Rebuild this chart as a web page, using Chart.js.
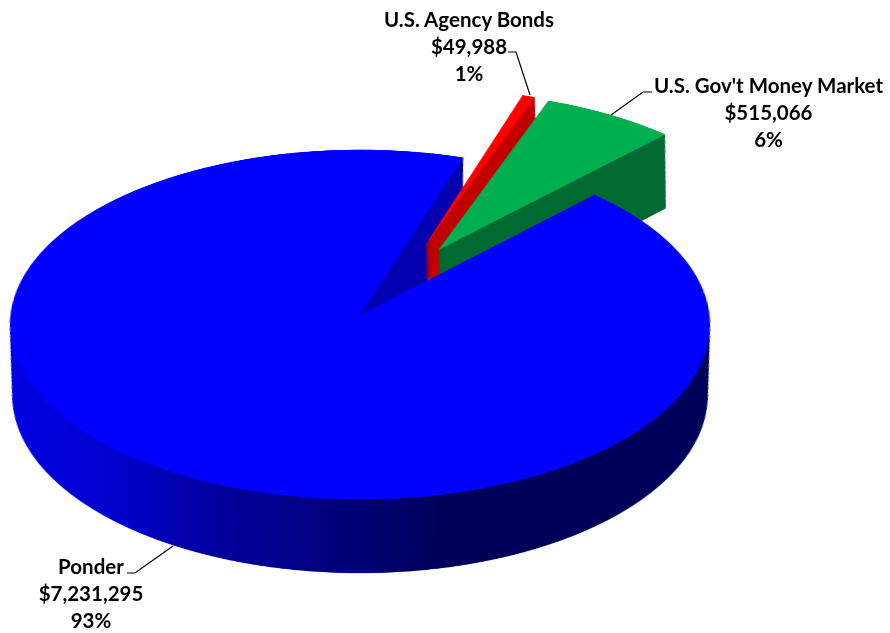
<!DOCTYPE html>
<html>
<head>
<title>Portfolio pie</title>
<script src="https://cdn.jsdelivr.net/npm/chart.js@4/dist/chart.umd.min.js"></script>
<style>
html, body { margin: 0; padding: 0; background: #fff; width: 890px; height: 633px; overflow: hidden; }
/* tilts the flat pie back so that it looks like the 3D one, apex at 359,315 */
#tilt { position: absolute; left: 359.5px; top: 315px; width: 0; height: 0; transform-origin: 0 0;
  transform: matrix3d(1,0,0,0, 0,0.499,0,-0.000156, 0,0,1,0, 0,0,0,1); }
#pie { position: absolute; left: -380px; top: -500px; }
#leaders { position: absolute; left: 0; top: 0; }
.lbl { position: absolute; transform: translateX(-50%); text-align: center; white-space: nowrap;
  font: bold 20.5px/27px Lato, sans-serif; color: #000; }
</style>
</head>
<body>
<div id="tilt"><canvas id="pie" width="760" height="1000"></canvas></div>
<svg id="leaders" width="890" height="633" fill="none" stroke="#000" stroke-width="1.2">
  <polyline points="508,52 516,52 530,95"/>
  <polyline points="652,92 643,92 611,115"/>
  <polyline points="127,573 135,573 173,546"/>
</svg>
<div id="labels"></div>
<script>
const categories = ['Ponder', 'U.S. Agency Bonds', "U.S. Gov't Money Market"];
const amounts = [7231295, 49988, 515066];
const percents = ['93%', '1%', '6%'];

const topColors = ['#0000ff', '#ff0000', '#00b050'];
const wallColors = [null, '#c00000', '#006a31'];
const innerWall = '#0000b0';
const explode = [[0, 0], [66, -141], [80, -133]];   // flat offset of each slice
const depths = [139, 150, 155];                     // flat wall height
const labelPos = [[91, 553], [469, 6], [768.5, 72]];

const R = 349.5;

function drawArc(ctx, arc, dx, dy, k, fill) {
  const a = Object.create(arc);
  a.options = Object.assign({}, arc.options, { backgroundColor: fill });
  ctx.save();
  ctx.translate(arc.x + dx, arc.y + dy);
  ctx.scale(k, k);
  ctx.translate(-arc.x, -arc.y);
  a.draw(ctx);
  ctx.restore();
}

function stack(ctx, arc, i, fill) {
  const [ox, oy] = explode[i];
  for (let d = depths[i]; d > 0; d -= 1.5) {
    drawArc(ctx, arc, ox, oy + d, 1 - 0.028 * d / depths[i], fill);
  }
}

const pie3d = {
  id: 'pie3d',
  beforeDatasetsDraw(chart) {
    const ctx = chart.ctx;
    const arcs = chart.getDatasetMeta(0).data;
    const main = arcs[0];

    const grad = ctx.createLinearGradient(main.x - R, 0, main.x + R, 0);
    grad.addColorStop(0, '#0000e4');
    grad.addColorStop(0.17, '#0000cc');
    grad.addColorStop(0.27, '#0000a8');
    grad.addColorStop(0.41, '#000088');
    grad.addColorStop(0.615, '#00005a');
    grad.addColorStop(1, '#00005a');
    stack(ctx, main, 0, grad);

    // cut face of the big slice, only shows inside the top circle
    ctx.save();
    ctx.beginPath();
    ctx.arc(main.x, main.y, R, 0, Math.PI * 2);
    ctx.clip();
    stack(ctx, main, 0, innerWall);
    ctx.restore();

    [1, 2].forEach(i => {
      stack(ctx, arcs[i], i, wallColors[i]);
      drawArc(ctx, arcs[i], explode[i][0], explode[i][1], 1, topColors[i]);
    });
    drawArc(ctx, main, 0, 0, 1, topColors[0]);
    return false;
  }
};

new Chart(document.getElementById('pie'), {
  type: 'pie',
  data: {
    labels: categories,
    datasets: [{ data: amounts, backgroundColor: topColors, borderWidth: 0 }]
  },
  options: {
    responsive: false,
    animation: false,
    devicePixelRatio: 2,
    rotation: 44.2,
    radius: R,
    plugins: { legend: { display: false }, tooltip: { enabled: false } }
  },
  plugins: [pie3d]
});

const box = document.getElementById('labels');
categories.forEach((c, i) => {
  const d = document.createElement('div');
  d.className = 'lbl';
  d.style.left = labelPos[i][0] + 'px';
  d.style.top = labelPos[i][1] + 'px';
  d.innerHTML = c + '<br>$' + amounts[i].toLocaleString('en-US') + '<br>' + percents[i];
  box.appendChild(d);
});
</script>
</body>
</html>
